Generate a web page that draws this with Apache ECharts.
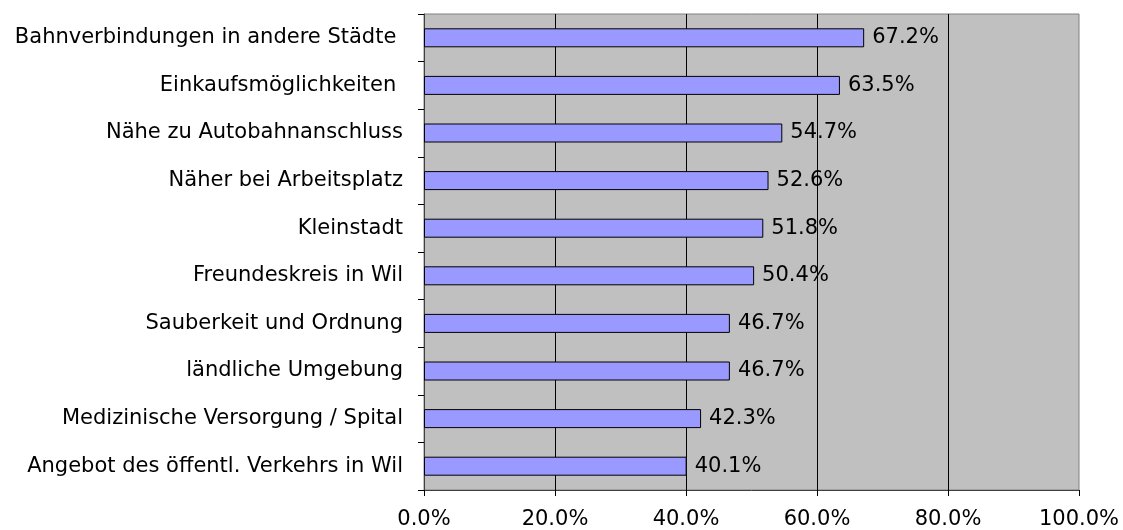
<!DOCTYPE html>
<html>
<head>
<meta charset="utf-8">
<script src="https://cdn.jsdelivr.net/npm/echarts@6/dist/echarts.min.js"></script>
<style>html,body{margin:0;padding:0;background:#fff;}#c{width:1123px;height:530px;}</style>
</head>
<body>
<div id="c"></div>
<script>
const categories = [
  "Bahnverbindungen in andere Städte ",
  "Einkaufsmöglichkeiten ",
  "Nähe zu Autobahnanschluss",
  "Näher bei Arbeitsplatz",
  "Kleinstadt",
  "Freundeskreis in Wil",
  "Sauberkeit und Ordnung",
  "ländliche Umgebung",
  "Medizinische Versorgung / Spital",
  "Angebot des öffentl. Verkehrs in Wil"
];
const values = [67.2, 63.5, 54.7, 52.6, 51.8, 50.4, 46.7, 46.7, 42.3, 40.1];
const xTicks = [0, 20, 40, 60, 80, 100];

const font = '"DejaVu Sans", sans-serif';
const chart = echarts.init(document.getElementById('c'));
chart.setOption({
  animation: false,
  grid: {
    left: 424, right: 44, top: 14, bottom: 40,
    show: true, backgroundColor: '#C0C0C0', borderColor: '#808080', borderWidth: 1
  },
  xAxis: {
    type: 'value', min: xTicks[0], max: xTicks[xTicks.length - 1], interval: 20,
    axisLine: { show: true, lineStyle: { color: '#404040', width: 1 } },
    axisTick: { show: true, length: 6, lineStyle: { color: '#000' } },
    axisLabel: { color: '#000', fontSize: 21, fontFamily: font, margin: 19,
      formatter: v => v.toFixed(1) + '%' },
    splitLine: { show: true, showMinLine: false, showMaxLine: false, lineStyle: { color: '#000', width: 1 } }
  },
  yAxis: {
    type: 'category', data: categories, inverse: true,
    axisLine: { show: true, lineStyle: { color: '#404040', width: 1 } },
    axisTick: { show: true, length: 6, lineStyle: { color: '#000' } },
    axisLabel: { color: '#000', fontSize: 21, fontFamily: font, margin: 21 },
    splitLine: { show: false }
  },
  series: [{
    type: 'bar', data: values, barWidth: 19,
    itemStyle: { color: '#9999FF', borderColor: '#000', borderWidth: 1 },
    label: { show: true, position: 'right', distance: 8, color: '#000', fontSize: 21, fontFamily: font,
      formatter: p => p.value.toFixed(1) + '%' }
  }]
});
</script>
</body>
</html>
